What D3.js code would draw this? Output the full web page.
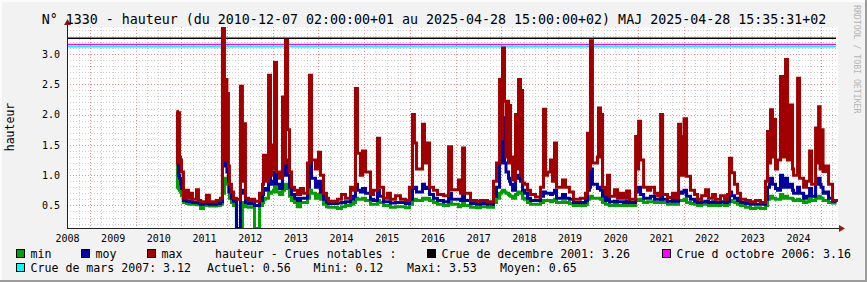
<!DOCTYPE html>
<html>
<head>
<meta charset="utf-8">
<script src="https://cdn.jsdelivr.net/npm/d3@7"></script>
<style>
  html, body { margin: 0; padding: 0; background: #f2f2f2; }
  svg { display: block; }
  text { font-family: "DejaVu Sans Mono", monospace; fill: #000; }
</style>
</head>
<body>
<svg id="chart" width="867" height="282"></svg>
<script>
const TITLE = "N° 1330 - hauteur (du 2010-12-07 02:00:00+01 au 2025-04-28 15:00:00+02) MAJ 2025-04-28 15:35:31+02";

// time as decimal years, values in metres
const times = [
  2010.893, 2010.915, 2010.937, 2010.959, 2010.981, 2011.003, 2011.046, 2011.112, 2011.156, 2011.178, 2011.243,
  2011.331, 2011.375, 2011.419, 2011.484, 2011.550, 2011.615, 2011.769, 2011.856, 2011.900, 2011.944,
  2011.966, 2011.998, 2012.031, 2012.053, 2012.097, 2012.141, 2012.206, 2012.294, 2012.337, 2012.359,
  2012.403, 2012.469, 2012.535, 2012.600, 2012.710, 2012.775, 2012.797, 2012.841, 2012.907, 2012.950,
  2012.972, 2013.016, 2013.038, 2013.082, 2013.148, 2013.213, 2013.257, 2013.279, 2013.323, 2013.366,
  2013.410, 2013.476, 2013.541, 2013.607, 2013.673, 2013.760, 2013.804, 2013.848, 2013.935, 2014.001,
  2014.045, 2014.110, 2014.176, 2014.220, 2014.417, 2014.504, 2014.592, 2014.701, 2014.767, 2014.811,
  2014.855, 2014.920, 2014.964, 2015.030, 2015.139, 2015.205, 2015.293, 2015.336, 2015.424, 2015.511,
  2015.577, 2015.686, 2015.796, 2015.905, 2015.993, 2016.059, 2016.102, 2016.146, 2016.277, 2016.321,
  2016.387, 2016.431, 2016.518, 2016.606, 2016.737, 2016.847, 2016.912, 2017.065, 2017.109, 2017.153,
  2017.197, 2017.328, 2017.459, 2017.547, 2017.700, 2017.831, 2017.897, 2017.963, 2018.006, 2018.028,
  2018.072, 2018.105, 2018.127, 2018.160, 2018.182, 2018.204, 2018.248, 2018.313, 2018.357, 2018.379,
  2018.423, 2018.445, 2018.467, 2018.510, 2018.576, 2018.642, 2018.751, 2018.861, 2018.926, 2018.970,
  2019.013, 2019.079, 2019.123, 2019.167, 2019.210, 2019.341, 2019.407, 2019.494, 2019.582, 2019.735,
  2019.845, 2019.889, 2019.932, 2019.954, 2019.998, 2020.107, 2020.129, 2020.173, 2020.195, 2020.217,
  2020.282, 2020.326, 2020.370, 2020.480, 2020.546, 2020.611, 2020.677, 2020.743, 2020.809, 2020.940,
  2020.984, 2021.006, 2021.049, 2021.115, 2021.202, 2021.268, 2021.355, 2021.421, 2021.487, 2021.531,
  2021.640, 2021.749, 2021.815, 2021.881, 2021.924, 2021.946, 2021.979, 2022.001, 2022.056, 2022.143,
  2022.231, 2022.297, 2022.385, 2022.472, 2022.538, 2022.625, 2022.691, 2022.800, 2022.888, 2022.953,
  2022.997, 2023.041, 2023.106, 2023.172, 2023.238, 2023.347, 2023.456, 2023.566, 2023.675, 2023.785,
  2023.829, 2023.873, 2023.894, 2023.938, 2023.960, 2024.004, 2024.048, 2024.113, 2024.157, 2024.223,
  2024.267, 2024.332, 2024.376, 2024.398, 2024.486, 2024.529, 2024.617, 2024.682, 2024.748, 2024.792,
  2024.879, 2024.923, 2024.945, 2024.978, 2024.999, 2025.043, 2025.098, 2025.163, 2025.251, 2025.339
];

const minVals = [
  1.20, 0.80, 0.78, 0.75, 0.72, 0.66, 0.55, 0.53, 0.53, 0.52, 0.52,
  0.51, 0.52, 0.45, 0.50, 0.50, 0.49, 0.50, 0.52, 0.70, 0.95,
  0.95, 0.85, 0.72, 0.62, 0.55, 0.50, 0.12, 0.12, 0.55, 0.55,
  0.48, 0.47, 0.48, 0.12, 0.50, 0.55, 0.60, 0.62, 0.70, 0.70,
  0.72, 0.75, 0.80, 0.72, 0.68, 0.75, 0.80, 0.85, 0.78, 0.65,
  0.58, 0.55, 0.48, 0.55, 0.55, 0.62, 0.75, 0.70, 0.62, 0.68,
  0.60, 0.52, 0.48, 0.47, 0.45, 0.48, 0.50, 0.52, 0.55, 0.62,
  0.60, 0.60, 0.62, 0.58, 0.52, 0.52, 0.58, 0.55, 0.50, 0.50,
  0.47, 0.48, 0.48, 0.46, 0.52, 0.58, 0.60, 0.58, 0.62, 0.60,
  0.62, 0.58, 0.55, 0.52, 0.50, 0.55, 0.52, 0.48, 0.50, 0.55,
  0.50, 0.47, 0.46, 0.48, 0.47, 0.55, 0.62, 0.70, 0.72, 0.75,
  0.72, 0.70, 0.70, 0.68, 0.66, 0.65, 0.62, 0.68, 0.70, 0.72,
  0.70, 0.70, 0.62, 0.60, 0.55, 0.52, 0.52, 0.55, 0.58, 0.58,
  0.58, 0.56, 0.58, 0.60, 0.55, 0.56, 0.55, 0.53, 0.50, 0.50,
  0.52, 0.60, 0.62, 0.65, 0.62, 0.62, 0.62, 0.60, 0.60, 0.55,
  0.52, 0.52, 0.50, 0.52, 0.50, 0.50, 0.50, 0.52, 0.50, 0.58,
  0.58, 0.60, 0.58, 0.55, 0.56, 0.56, 0.55, 0.55, 0.58, 0.55,
  0.52, 0.53, 0.52, 0.58, 0.58, 0.58, 0.58, 0.60, 0.55, 0.53,
  0.52, 0.50, 0.52, 0.52, 0.50, 0.51, 0.50, 0.51, 0.50, 0.52,
  0.58, 0.56, 0.55, 0.52, 0.50, 0.47, 0.45, 0.46, 0.45, 0.50,
  0.60, 0.62, 0.65, 0.62, 0.62, 0.60, 0.60, 0.68, 0.62, 0.65,
  0.62, 0.62, 0.60, 0.58, 0.60, 0.58, 0.55, 0.56, 0.60, 0.58,
  0.62, 0.62, 0.65, 0.63, 0.62, 0.58, 0.58, 0.55, 0.54, 0.54
];

const moyVals = [
  1.60, 1.45, 1.00, 0.95, 0.85, 0.78, 0.58, 0.57, 0.57, 0.56, 0.55,
  0.55, 0.54, 0.52, 0.53, 0.55, 0.52, 0.53, 0.56, 1.15, 1.22,
  1.20, 1.05, 0.90, 0.72, 0.62, 0.57, 0.12, 0.75, 0.70, 0.70,
  0.55, 0.53, 0.54, 0.50, 0.58, 0.68, 0.78, 0.75, 1.00, 0.85,
  0.85, 0.90, 1.05, 0.85, 0.78, 1.00, 1.00, 1.25, 1.00, 0.80,
  0.68, 0.62, 0.58, 0.62, 0.62, 0.80, 1.25, 0.95, 0.80, 0.90,
  0.72, 0.60, 0.55, 0.53, 0.54, 0.55, 0.56, 0.60, 0.65, 0.85,
  0.75, 0.72, 0.78, 0.70, 0.60, 0.58, 0.75, 0.65, 0.56, 0.56,
  0.54, 0.55, 0.55, 0.53, 0.60, 0.78, 0.80, 0.72, 0.85, 0.78,
  0.80, 0.68, 0.62, 0.58, 0.56, 0.70, 0.60, 0.60, 0.58, 0.70,
  0.58, 0.53, 0.52, 0.53, 0.52, 0.65, 0.80, 1.20, 1.50, 1.95,
  1.20, 1.05, 1.05, 0.95, 0.90, 0.85, 0.75, 0.95, 0.95, 1.00,
  0.90, 0.90, 0.75, 0.70, 0.62, 0.58, 0.58, 0.65, 0.72, 0.70,
  0.70, 0.68, 0.70, 0.75, 0.62, 0.68, 0.62, 0.60, 0.55, 0.55,
  0.58, 0.75, 0.80, 1.10, 0.85, 0.78, 0.80, 0.75, 0.75, 0.65,
  0.58, 0.65, 0.56, 0.57, 0.56, 0.56, 0.55, 0.57, 0.55, 0.72,
  0.72, 0.80, 0.68, 0.62, 0.62, 0.65, 0.60, 0.60, 0.70, 0.60,
  0.57, 0.58, 0.57, 0.72, 0.70, 0.70, 0.72, 0.75, 0.65, 0.60,
  0.57, 0.55, 0.56, 0.57, 0.55, 0.56, 0.55, 0.56, 0.55, 0.57,
  0.72, 0.66, 0.62, 0.58, 0.55, 0.53, 0.52, 0.52, 0.52, 0.60,
  0.80, 0.85, 0.95, 0.85, 0.85, 0.78, 0.75, 1.00, 0.80, 0.95,
  0.80, 0.85, 0.75, 0.70, 0.80, 0.70, 0.62, 0.65, 0.78, 0.65,
  0.85, 0.85, 0.95, 0.85, 0.80, 0.70, 0.72, 0.62, 0.57, 0.56
];

const maxVals = [
  2.05, 1.20, 2.03, 1.30, 1.25, 1.05, 0.62, 0.75, 0.62, 0.70, 0.60,
  0.76, 0.58, 0.56, 0.56, 0.67, 0.56, 0.58, 0.62, 3.53, 1.25,
  2.58, 2.35, 1.15, 0.85, 0.72, 0.62, 0.60, 2.47, 0.90, 1.85,
  0.62, 0.58, 0.60, 0.57, 0.70, 0.85, 1.33, 0.90, 2.65, 1.00,
  1.50, 1.10, 2.86, 1.05, 0.95, 2.29, 1.20, 3.23, 1.75, 1.05,
  0.80, 0.75, 0.68, 0.78, 0.70, 1.20, 2.65, 1.25, 1.10, 1.38,
  1.00, 0.70, 0.62, 0.57, 0.60, 0.68, 0.62, 0.80, 0.75, 2.43,
  1.36, 1.00, 1.40, 1.05, 0.68, 0.75, 1.61, 0.80, 0.62, 0.70,
  0.60, 0.66, 0.60, 0.58, 0.80, 2.00, 1.53, 1.10, 1.84, 1.20,
  1.53, 0.80, 0.75, 0.68, 0.66, 1.47, 0.76, 0.92, 0.70, 1.45,
  0.70, 0.58, 0.57, 0.58, 0.56, 0.90, 1.20, 2.58, 1.60, 3.10,
  2.22, 1.30, 2.22, 1.20, 2.15, 1.30, 0.92, 2.00, 1.10, 2.58,
  1.00, 2.40, 0.87, 0.85, 0.75, 0.68, 0.64, 0.80, 2.09, 1.00,
  1.05, 1.25, 0.90, 1.53, 0.80, 0.92, 0.80, 0.72, 0.60, 0.62,
  0.70, 1.69, 1.10, 3.22, 1.20, 1.30, 2.11, 1.30, 2.00, 0.80,
  0.68, 1.00, 0.65, 0.76, 0.62, 0.70, 0.62, 0.74, 0.60, 1.64,
  1.10, 1.89, 1.25, 0.80, 0.75, 0.80, 0.70, 0.66, 2.00, 0.68,
  0.63, 0.70, 0.62, 1.84, 1.00, 1.64, 1.00, 1.93, 0.98, 0.75,
  0.68, 0.60, 0.66, 0.76, 0.62, 0.68, 0.60, 0.66, 0.60, 0.68,
  1.28, 1.04, 0.85, 0.70, 0.60, 0.58, 0.56, 0.58, 0.55, 0.90,
  1.72, 1.20, 2.08, 1.30, 1.92, 1.10, 1.25, 2.63, 1.30, 2.91,
  1.25, 2.16, 1.10, 1.00, 2.60, 0.95, 0.80, 0.90, 1.40, 0.85,
  1.78, 1.20, 2.13, 1.10, 1.75, 1.06, 1.15, 0.85, 0.58, 0.57
];

const seriesNames = ["min", "moy", "max"];
const seriesColors = ["#00a000", "#0000a0", "#a00000"];

const crueNames = ["Crue de decembre 2001", "Crue d octobre 2006", "Crue de mars 2007"];
const crueValues = [3.26, 3.16, 3.12];
const crueColors = ["#000000", "#ff00ff", "#00ffff"];

const statNames = ["Actuel", "Mini", "Maxi", "Moyen"];
const statValues = [0.56, 0.12, 3.53, 0.65];

const yTicks = [0.5, 1.0, 1.5, 2.0, 2.5, 3.0];
const yearLabels = d3.range(2008, 2025);

const WIDTH = 867;
const HEIGHT = 282;
const LEFT = 67, RIGHT = 838, TOP = 27, BOTTOM = 228;

let svg = d3.select("#chart");

function yearToDate(t) {
  let y = Math.floor(t);
  let a = Date.UTC(y, 0, 1), b = Date.UTC(y + 1, 0, 1);
  return new Date(a + (t - y) * (b - a));
}

let x = d3.scaleUtc()
  .domain([new Date(Date.UTC(2008, 6, 1)), new Date(Date.UTC(2025, 4, 16))])
  .range([LEFT, RIGHT]);

let y = d3.scaleLinear()
  .domain([0.127, 3.447])
  .range([BOTTOM, TOP]);

// canvas and frame shade
svg.append("rect").attr("width", WIDTH).attr("height", HEIGHT).attr("fill", "#f2f2f2");
svg.append("path").attr("d", "M0,1H866M1,0V281").attr("stroke", "#fcfcfc").attr("stroke-width", 2);
svg.append("path").attr("d", "M866,0V282M0,281H867").attr("stroke", "#9c9c9c").attr("stroke-width", 2);

svg.append("rect")
  .attr("x", LEFT).attr("y", TOP)
  .attr("width", RIGHT - LEFT).attr("height", BOTTOM - TOP)
  .attr("fill", "#fff");

// grid
let grid = svg.append("g").attr("shape-rendering", "crispEdges");

let minorY = d3.range(2, 35).map(d => d / 10).filter(d => Math.round(d * 10) % 5 !== 0);
grid.selectAll(".hminor").data(minorY).enter().append("line")
  .attr("x1", LEFT).attr("x2", RIGHT)
  .attr("y1", d => Math.round(y(d)) + 0.5).attr("y2", d => Math.round(y(d)) + 0.5)
  .attr("stroke", "#cfcfcf").attr("stroke-dasharray", "1,2");

let quarters = d3.utcMonth.every(3).range(x.domain()[0], x.domain()[1]).filter(d => d.getUTCMonth() !== 0);
grid.selectAll(".vminor").data(quarters).enter().append("line")
  .attr("x1", d => Math.round(x(d)) + 0.5).attr("x2", d => Math.round(x(d)) + 0.5)
  .attr("y1", TOP).attr("y2", BOTTOM)
  .attr("stroke", "#cfcfcf").attr("stroke-dasharray", "1,2");

grid.selectAll(".hmajor").data(yTicks).enter().append("line")
  .attr("x1", LEFT).attr("x2", RIGHT)
  .attr("y1", d => Math.round(y(d)) + 0.5).attr("y2", d => Math.round(y(d)) + 0.5)
  .attr("stroke", "#e88c8c").attr("stroke-dasharray", "1,2");

let janFirsts = d3.utcYear.range(x.domain()[0], x.domain()[1]);
grid.selectAll(".vmajor").data(janFirsts).enter().append("line")
  .attr("x1", d => Math.round(x(d)) + 0.5).attr("x2", d => Math.round(x(d)) + 0.5)
  .attr("y1", TOP).attr("y2", BOTTOM)
  .attr("stroke", "#e88c8c").attr("stroke-dasharray", "1,2");

// notable floods
svg.selectAll(".crue").data(crueValues).enter().append("line")
  .attr("x1", LEFT).attr("x2", RIGHT - 2)
  .attr("y1", d => y(d)).attr("y2", d => y(d))
  .attr("stroke", (d, i) => crueColors[i]).attr("stroke-width", 1.5);

// series
svg.append("clipPath").attr("id", "plotclip")
  .append("rect").attr("x", LEFT).attr("y", TOP).attr("width", RIGHT - LEFT).attr("height", BOTTOM - TOP);

let dates = times.map(yearToDate);
let allSeries = [minVals, moyVals, maxVals];

let line = d3.line()
  .x(d => x(d[0]))
  .y(d => y(d[1]))
  .curve(d3.curveStepAfter);

svg.append("g").attr("clip-path", "url(#plotclip)")
  .selectAll("path").data(allSeries).enter().append("path")
  .attr("d", vals => line(vals.map((v, i) => [dates[i], v])))
  .attr("fill", "none")
  .attr("stroke", (d, i) => seriesColors[i])
  .attr("stroke-width", 3)
  .attr("stroke-linejoin", "miter");

// axes
let xAxis = d3.axisBottom(x)
  .tickValues(yearLabels.map(yr => new Date(Date.UTC(yr, 6, 1))))
  .tickFormat(d3.utcFormat("%Y"))
  .tickSize(0).tickPadding(7);

let gx = svg.append("g").attr("transform", `translate(0,${BOTTOM})`).call(xAxis);
gx.select(".domain").remove();
gx.selectAll("text").attr("font-size", 10).attr("font-family", "DejaVu Sans Mono");

let yAxis = d3.axisLeft(y)
  .tickValues(yTicks)
  .tickFormat(d3.format(".1f"))
  .tickSize(0).tickPadding(7);

let gy = svg.append("g").attr("transform", `translate(${LEFT},0)`).call(yAxis);
gy.select(".domain").remove();
gy.selectAll("text").attr("font-size", 10).attr("font-family", "DejaVu Sans Mono");

svg.append("path")
  .attr("d", `M${LEFT + 0.5},${BOTTOM}V${TOP - 5}M${LEFT},${BOTTOM + 0.5}H${RIGHT + 2}`)
  .attr("stroke", "#222").attr("stroke-width", 1).attr("fill", "none");
svg.append("path")
  .attr("d", `M${LEFT - 3},${TOP - 2}L${LEFT + 0.5},${TOP - 8}L${LEFT + 4},${TOP - 2}Z`)
  .attr("fill", "#8b1a1a");
svg.append("path")
  .attr("d", `M${RIGHT + 1},${BOTTOM - 3}L${RIGHT + 7},${BOTTOM + 0.5}L${RIGHT + 1},${BOTTOM + 4}Z`)
  .attr("fill", "#8b1a1a");

// titles
svg.append("text")
  .attr("x", 434).attr("y", 24)
  .attr("text-anchor", "middle")
  .attr("font-size", 13.3)
  .text(TITLE);

svg.append("text")
  .attr("transform", `translate(14,127) rotate(-90)`)
  .attr("text-anchor", "middle")
  .attr("font-size", 11.5)
  .text("hauteur");

svg.append("text")
  .attr("transform", `translate(854,5) rotate(90)`)
  .attr("font-size", 8.2)
  .style("fill", "#b4b4b4")
  .text("RRDTOOL / TOBI OETIKER");

// legend
function swatch(px, py, color) {
  svg.append("rect")
    .attr("x", px + 0.5).attr("y", py + 0.5)
    .attr("width", 8).attr("height", 8)
    .attr("fill", color).attr("stroke", "#000").attr("stroke-width", 1);
}

function label(px, py, str) {
  svg.append("text").attr("x", px).attr("y", py).attr("font-size", 11.6).text(str);
}

let row1 = 258, row2 = 272;
let serieX = [16, 81, 147];
seriesNames.forEach((n, i) => {
  swatch(serieX[i], row1 - 9, seriesColors[i]);
  label(serieX[i] + 14.5, row1, n);
});
label(215, row1, "hauteur - Crues notables :");

let crueX = [[427, row1], [662, row1], [16, row2]];
crueNames.forEach((n, i) => {
  swatch(crueX[i][0], crueX[i][1] - 9, crueColors[i]);
  label(crueX[i][0] + 14.5, crueX[i][1], n + ": " + crueValues[i].toFixed(2));
});

let statX = [207, 313.5, 407, 500];
statNames.forEach((n, i) => {
  label(statX[i], row2, n + ": " + statValues[i].toFixed(2));
});
</script>
</body>
</html>
